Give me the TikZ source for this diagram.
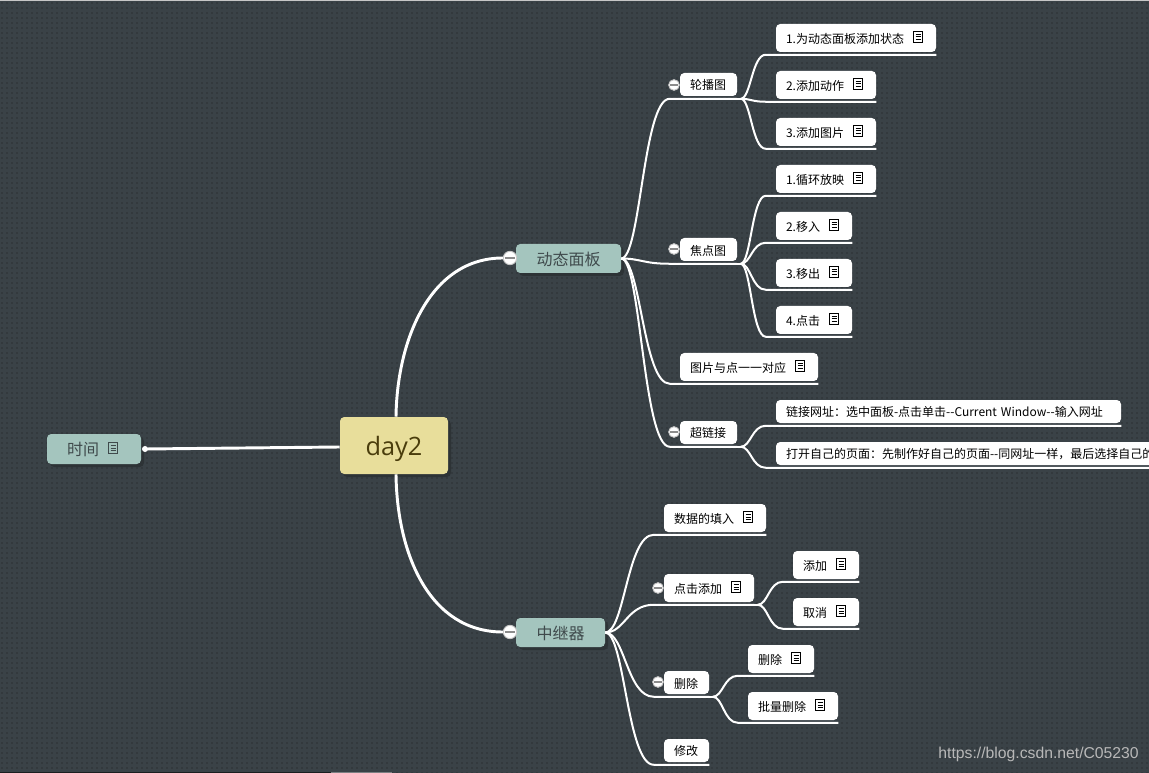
\documentclass[tikz,border=0pt]{standalone}
\usepackage{fontspec}
\setmainfont{Noto Sans CJK SC}
\newfontfamily\rootfont{Open Sans}
\newfontfamily\markfont{Liberation Sans}
\usetikzlibrary{calc,shadows}
\definecolor{bgbase}{HTML}{3A4247}
\definecolor{bgdot}{HTML}{33393D}
\definecolor{teal1}{HTML}{A4C5BE}
\definecolor{sand}{HTML}{E8DE9B}
\definecolor{shade}{HTML}{2D3336}
\definecolor{ink1}{HTML}{3F4A4C}
\definecolor{ink0}{HTML}{4A3D0C}
\tikzset{
  mmbase/.style={rectangle,rounded corners=3.2,inner ysep=0pt,align=left},
  leafbox/.style={mmbase,fill=white,text=black,font=\fontsize{9}{11}\selectfont},
  mainbox/.style={mmbase,fill=teal1,text=ink1,font=\fontsize{12}{14}\selectfont,
    general shadow={shadow xshift=2.25pt,shadow yshift=-2.25pt,fill=shade}},
  rootbox/.style={mmbase,fill=sand,text=ink0,font=\rootfont\fontsize{19}{22}\selectfont,
    general shadow={shadow xshift=2.25pt,shadow yshift=-2.25pt,fill=shade}},
  rootlink/.style={draw=white,line width=2.2pt},
  sublink/.style={draw=white,line width=1.5pt},
  folder/.style={circle,fill=white,draw=black!22,line width=.7pt,inner sep=0pt,minimum size=8pt},
  bigfolder/.style={folder,minimum size=10pt},
  dotend/.style={circle,fill=white,inner sep=0pt,minimum size=4.5pt},
  noteicon/.style={draw=#1,line width=.75pt},
  noteicon/.default=black
}
% optional pad; style; name; x1; y1; x2; y2; text
\newcommand\mmnode[8][10]{%
  \pgfmathsetmacro\mmw{(#6-#4-2*#1)*0.75}%
  \pgfmathsetmacro\mmh{(#7-#5)*0.75}%
  \pgfmathsetmacro\mmp{#1*0.75}%
  \node[#2,text width=\mmw pt,minimum height=\mmh pt,inner xsep=\mmp pt]
    (#3) at ({(#4+#6)/2},{(#5+#7)/2}) {\mbox{\raisebox{-.7pt}[\height][\depth]{#8}}};%
}
% note icon, placed relative to the east side of a node
\newcommand\mmnote[3][-18]{%
  \begin{scope}[shift={($(#2.east)+(#1,-1)$)}]
    \draw[noteicon=#3] (-4.6,-5.2) rectangle (4.6,5.2);
    \draw[noteicon=#3] (-2.6,-2.6)--(2.6,-2.6) (-2.6,0)--(2.6,0) (-2.6,2.6)--(2.6,2.6);
  \end{scope}}
% S-curve from a point to the start of a node's underline
\newcommand\mmlink[2]{%
  \draw[sublink] let \p1=(#1),\p2=($(#2.south west)+(-10,2.5)$) in
    (\p1) .. controls ({\x1+0.4*(\x2-\x1)},\y1) and ({\x1+0.45*(\x2-\x1)},\y2) .. (\p2)
    -- ($(#2.south east)+(0,2.5)$);}
% junction at the end of a parent's underline
\newcommand\mmjoin[1]{%
  \coordinate (#1j) at ($(#1.south east)+(3.5,2.5)$);
  \draw[sublink] ($(#1.south east)+(0,2.5)$) -- (#1j);}
\newcommand\mmfold[4][folder]{%
  \node[#1] (#2) at (#3,#4) {};
  \draw[draw=black!45,line width=.8pt] ($(#2.west)+(1.8,0)$) -- ($(#2.east)+(-1.8,0)$);}
\begin{document}
\begin{tikzpicture}[x=0.75pt,y=-0.75pt]
\useasboundingbox (0,0) rectangle (1149,773);
\clip (0,0) rectangle (1149,773);
\fill[bgbase] (0,0) rectangle (1149,773);
\foreach \yy in {3,8,...,773}{
  \draw[bgdot,line width=1.5pt,dash pattern=on 1.5pt off 2.25pt] (1,\yy) -- (1149,\yy);
}
\fill[black!22] (0,0) rectangle (1149,1.2);
\fill[black!55!bgbase] (0,772) rectangle (331,773);
\fill[black!20!white!45!bgbase] (331,772) rectangle (392,773);

% main topics
\mmnode[0]{rootbox}{root}{340}{417}{448}{474}{\raisebox{-1.6pt}[\height][\depth]{\makebox[81pt][c]{day2}}}
\mmnode[20]{mainbox}{time}{47}{434}{141}{464}{时间}
\mmnode[20.5]{mainbox}{panel}{516}{244}{621}{273}{动态面板}
\mmnode[20.5]{mainbox}{relay}{516}{618}{605}{647}{中继器}

% panel branch
\mmnode{leafbox}{lun}{680}{73}{737}{96}{轮播图}
\mmnode{leafbox}{lunA}{776}{24}{936}{52}{1.为动态面板添加状态}
\mmnode{leafbox}{lunB}{776}{71}{876}{99}{2.添加动作}
\mmnode{leafbox}{lunC}{776}{118}{876}{146}{3.添加图片}
\mmnode{leafbox}{foc}{680}{238}{737}{261}{焦点图}
\mmnode{leafbox}{focA}{776}{165}{876}{193}{1.循环放映}
\mmnode{leafbox}{focB}{776}{212}{852}{240}{2.移入}
\mmnode{leafbox}{focC}{776}{259}{852}{287}{3.移出}
\mmnode{leafbox}{focD}{776}{306}{852}{334}{4.点击}
\mmnode{leafbox}{pic}{680}{353}{818}{381}{图片与点一一对应}
\mmnode{leafbox}{hyp}{680}{421}{737}{444}{超链接}
\mmnode{leafbox}{hypA}{776}{400}{1121}{423}{链接网址：选中面板-点击单击-{}-Current Window-{}-输入网址}
\mmnode{leafbox}{hypB}{776}{442}{1400}{465}{打开自己的页面：先制作好自己的页面-{}-同网址一样，最后选择自己的}

% relay branch
\mmnode{leafbox}{dat}{664}{504}{766}{532}{数据的填入}
\mmnode{leafbox}{add}{664}{574}{754}{602}{点击添加}
\mmnode{leafbox}{addA}{793}{551}{859}{579}{添加}
\mmnode{leafbox}{addB}{793}{598}{859}{626}{取消}
\mmnode{leafbox}{del}{664}{671}{709}{694}{删除}
\mmnode{leafbox}{delA}{748}{645}{814}{673}{删除}
\mmnode{leafbox}{delB}{748}{692}{838}{720}{批量删除}
\mmnode{leafbox}{mod}{664}{739}{709}{762}{修改}

% fold markers
\mmfold[bigfolder]{fpanel}{510}{258}
\mmfold[bigfolder]{frelay}{510}{632}
\mmfold{flun}{674}{85}
\mmfold{ffoc}{674}{249}
\mmfold{fhyp}{674}{432}
\mmfold{fadd}{658}{588}
\mmfold{fdel}{658}{682}
\node[dotend] (ftime) at (145,449) {};

% root connectors
\draw[rootlink] ([xshift=1.5pt]root.north) .. controls (397,340) and (430,258) .. (fpanel.west);
\draw[rootlink] ([xshift=1.5pt]root.south) .. controls (397,555) and (430,632) .. (frelay.west);
\draw[rootlink] ($(root.west)+(0,1.5)$) -- (ftime.center);

% second level
\mmlink{panel.east}{lun}
\mmlink{panel.east}{foc}
\mmlink{panel.east}{pic}
\mmlink{panel.east}{hyp}
\mmlink{relay.east}{dat}
\mmlink{relay.east}{add}
\mmlink{relay.east}{del}
\mmlink{relay.east}{mod}

% third level
\mmjoin{lun}\mmjoin{foc}\mmjoin{hyp}\mmjoin{add}\mmjoin{del}
\mmlink{lunj}{lunA}
\mmlink{lunj}{lunB}
\mmlink{lunj}{lunC}
\mmlink{focj}{focA}
\mmlink{focj}{focB}
\mmlink{focj}{focC}
\mmlink{focj}{focD}
\mmlink{hypj}{hypA}
\mmlink{hypj}{hypB}
\mmlink{addj}{addA}
\mmlink{addj}{addB}
\mmlink{delj}{delA}
\mmlink{delj}{delB}

% note icons
\foreach \nn in {lunA,lunB,lunC,focA,focB,focC,focD,pic,dat,add,addA,addB,delA,delB}{
  \mmnote{\nn}{black}
}
\mmnote[-28]{time}{ink1}

% watermark
\node[font=\markfont\fontsize{11.8}{14}\selectfont,text=black!28,anchor=east,inner sep=0pt] (mark) at (1139,754) {https://blog.csdn.net/C05230};
\end{tikzpicture}
\end{document}
